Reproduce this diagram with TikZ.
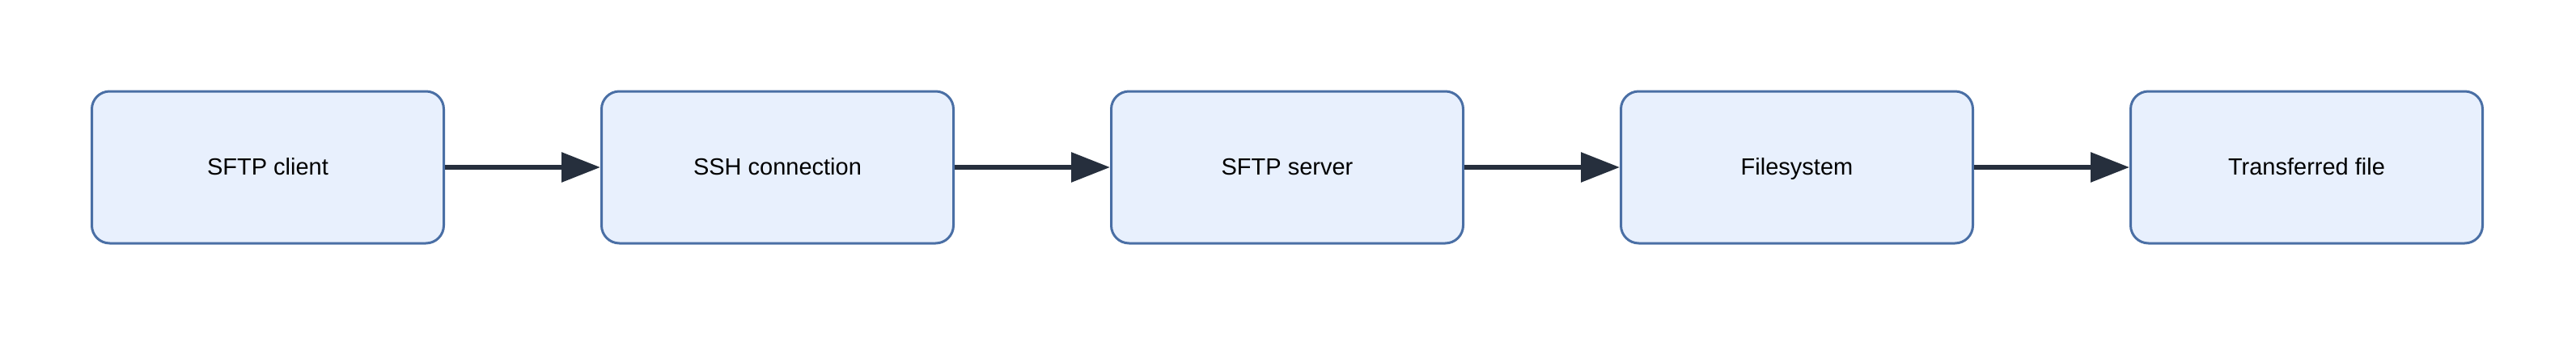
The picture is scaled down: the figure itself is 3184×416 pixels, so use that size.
\documentclass[tikz,border=0pt]{standalone}
\usepackage{fontspec}
\setmainfont{Liberation Sans}
\usetikzlibrary{positioning,arrows.meta}
\definecolor{boxfill}{HTML}{E8F0FD}
\definecolor{boxline}{HTML}{4A6FA5}
\definecolor{arrowcol}{HTML}{262F3D}
\tikzset{
    stage/.style={draw=boxline, line width=3pt, fill=boxfill, rounded corners=22pt,
        minimum width=435pt, minimum height=188pt, inner sep=0pt,
        text height=23pt, text depth=5pt,
        font=\fontsize{29}{34}\selectfont},
    flow/.style={arrowcol, line width=6pt, -{Triangle[length=48pt, width=36pt]}}
}
\begin{document}
\begin{tikzpicture}[x=1pt, y=1pt, node distance=192pt]
        \useasboundingbox (0,0) rectangle (3184,416);
        \node[stage] (client) at (331,209) {SFTP client};
        \node[stage, right=of client] (ssh) {SSH connection};
        \node[stage, right=of ssh] (server) {SFTP server};
        \node[stage, right=of server] (fs) {Filesystem};
        \node[stage, right=of fs] (file) {Transferred file};
        \draw[flow] (client) -- (ssh);
        \draw[flow] (ssh) -- (server);
        \draw[flow] (server) -- (fs);
        \draw[flow] (fs) -- (file);
    \end{tikzpicture}
\end{document}
